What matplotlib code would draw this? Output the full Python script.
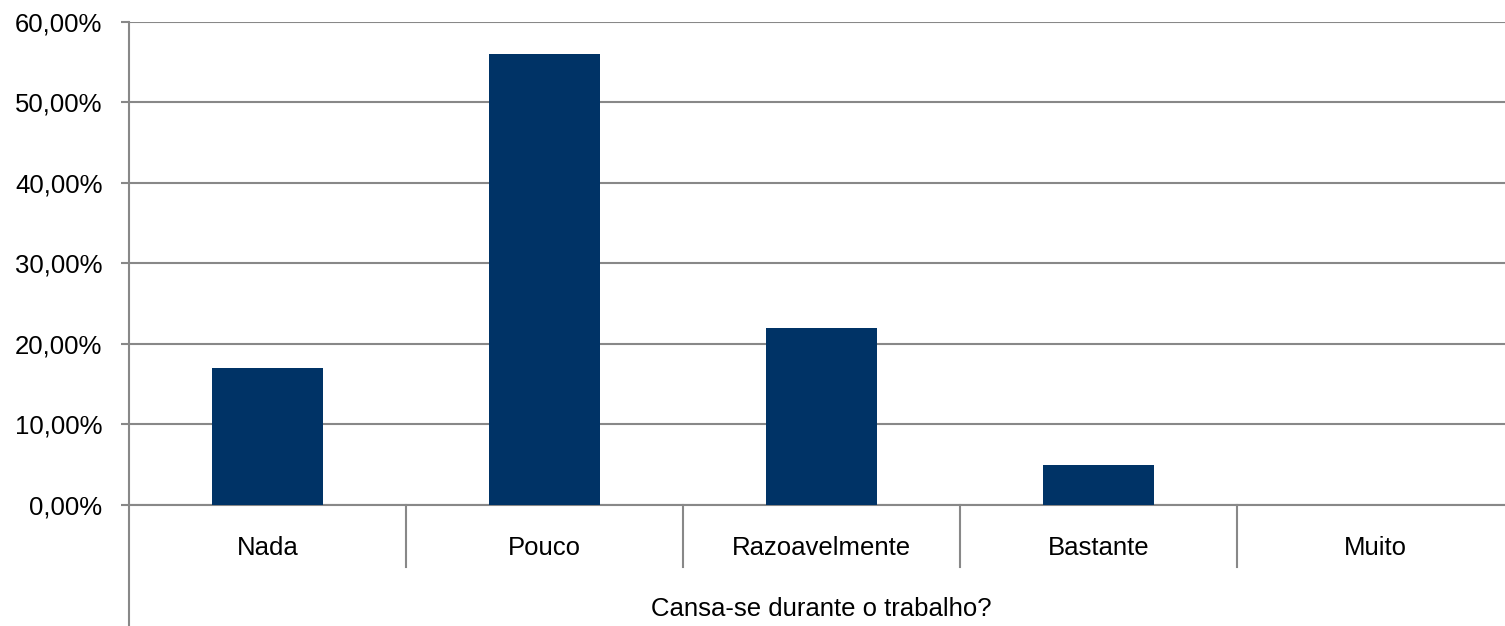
import matplotlib
matplotlib.use("Agg")
import matplotlib.pyplot as plt
from matplotlib.lines import Line2D
from matplotlib.ticker import FuncFormatter

plt.rcParams['font.family'] = ['Liberation Sans', 'DejaVu Sans']

categories = ["Nada", "Pouco", "Razoavelmente", "Bastante", "Muito"]
values = [17, 56, 22, 5, 0]
yticks = [0, 10, 20, 30, 40, 50, 60]
xlabel = "Cansa-se durante o trabalho?"

grid_c = '#888888'

fig = plt.figure(figsize=(15.05, 6.26), dpi=100)
ax = fig.add_axes([0.0857, 0.1933, 0.9203, 0.7716])

ax.bar(range(len(categories)), values, width=0.4, color='#003366', zorder=3)
ax.set_xlim(-0.5, len(categories) - 0.5)
ax.set_ylim(0, 60)
ax.set_yticks(yticks)
ax.yaxis.set_major_formatter(FuncFormatter(lambda v, p: "{:.2f}%".format(v).replace(".", ",")))
ax.grid(axis='y', color=grid_c, lw=1.5, zorder=0)

ax.set_xticks(range(len(categories)))
ax.set_xticklabels(categories)
ax.tick_params(axis='x', length=0, pad=22, labelsize=18.5)
ax.tick_params(axis='y', length=6, width=1.5, color=grid_c, pad=13, labelsize=18.5)

for s in ['top', 'right']:
    ax.spines[s].set_visible(False)
ax.spines['bottom'].set_color(grid_c)
ax.spines['bottom'].set_linewidth(1.5)
ax.spines['left'].set_visible(False)

# left axis line running down past the category row
ax.add_line(Line2D([0, 0], [-0.26, 1], transform=ax.transAxes, color=grid_c, lw=1.5, clip_on=False))
# separators between categories
for i in range(1, len(categories)):
    ax.add_line(Line2D([i / len(categories)] * 2, [-0.128, 0], transform=ax.transAxes,
                       color=grid_c, lw=1.5, clip_on=False))

ax.set_xlabel(xlabel, fontsize=18.5)
ax.xaxis.set_label_coords(0.5, -0.19)
ax.xaxis.label.set_va('top')

fig.savefig("out.png", dpi=100)
